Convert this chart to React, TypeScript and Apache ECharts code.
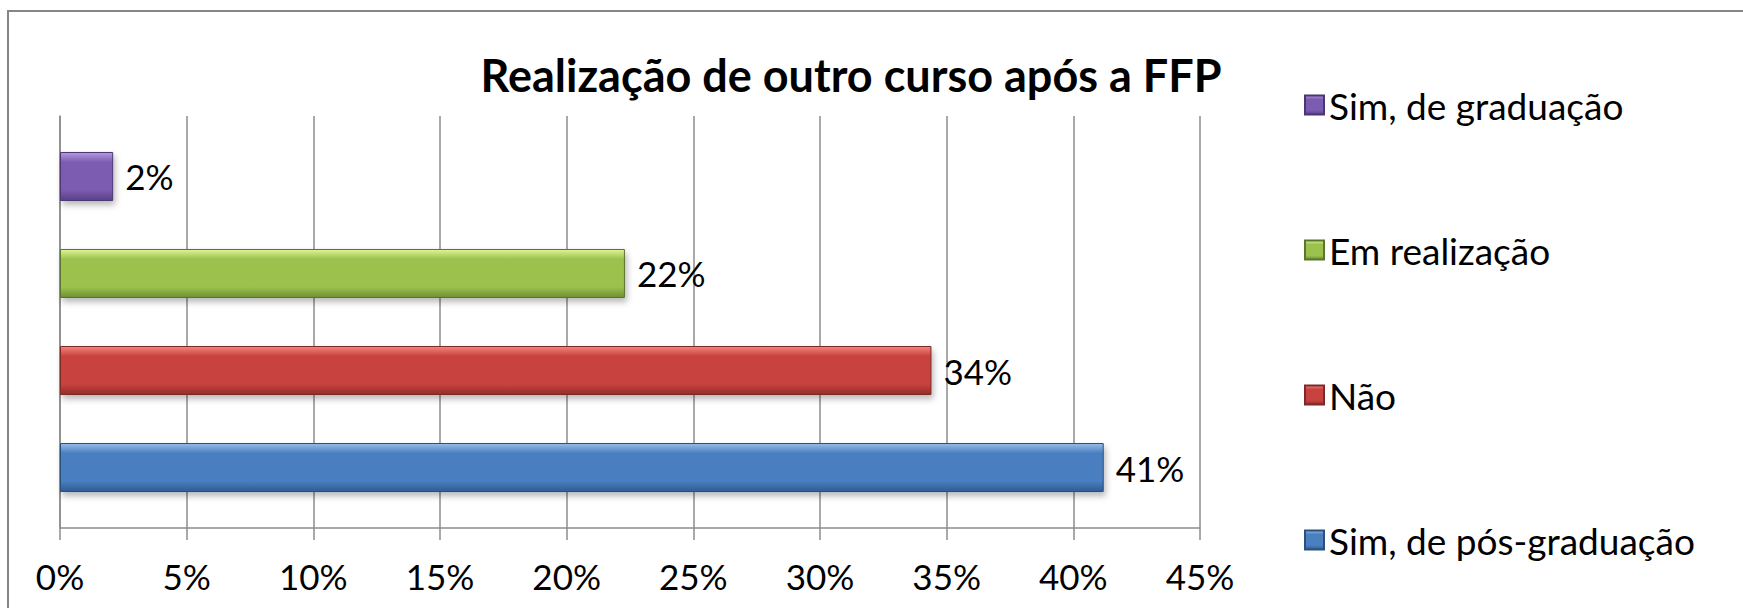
import React, { useEffect, useRef } from "react";
import * as echarts from "echarts";

const TITLE = "Realização de outro curso após a FFP";
// Series order as ECharts stacks them in the cluster (first = top bar)
const seriesNames = ["Sim, de graduação", "Em realização", "Não", "Sim, de pós-graduação"];
const seriesValues = [2.1, 22.3, 34.4, 41.2];
const seriesLabels = ["2%", "22%", "34%", "41%"];
const legendOrder = ["Sim, de graduação", "Em realização", "Não", "Sim, de pós-graduação"];
const xTicks = [0, 5, 10, 15, 20, 25, 30, 35, 40, 45];

const palette = [
  { top: "#b49ae0", mid: "#7c5cb0", bot: "#5a3f88", border: "#4b3573" },
  { top: "#dff596", mid: "#9cc24e", bot: "#6f8f33", border: "#5b7430" },
  { top: "#f6847f", mid: "#c8433f", bot: "#932d2a", border: "#7c2a28" },
  { top: "#98bdec", mid: "#4a7fc0", bot: "#2e5c93", border: "#2c4f7c" },
];

const FONT = "Lato";

export default function App() {
  const ref = useRef<HTMLDivElement>(null);
  useEffect(() => {
    if (!ref.current) return;
    const chart = echarts.init(ref.current, null, { renderer: "svg" });
    const series = seriesNames.map((name, i) => {
      const c = palette[i];
      return {
        name,
        type: "bar",
        data: [seriesValues[i]],
        barWidth: 49,
        barGap: "98%",
        itemStyle: {
          color: new echarts.graphic.LinearGradient(0, 0, 0, 1, [
            { offset: 0, color: c.top },
            { offset: 0.2, color: c.mid },
            { offset: 0.78, color: c.mid },
            { offset: 1, color: c.bot },
          ]),
          borderColor: c.border,
          borderWidth: 1,
          shadowBlur: 6,
          shadowOffsetX: 2,
          shadowOffsetY: 4,
          shadowColor: "rgba(0,0,0,0.28)",
        },
        label: {
          show: true,
          position: "right",
          distance: 12,
          formatter: () => seriesLabels[i],
          fontFamily: FONT,
          fontSize: 35,
          color: "#000",
        },
      };
    });
    chart.setOption({
      animation: false,
      backgroundColor: "#fff",
      title: {
        text: TITLE,
        left: 846,
        top: 47,
        textAlign: "center",
        textStyle: { fontFamily: FONT, fontWeight: "bold", fontSize: 45, color: "#000" },
      },
      legend: {
        orient: "vertical",
        left: 1299,
        top: 80,
        data: legendOrder,
        itemWidth: 19,
        itemHeight: 19,
        itemGap: 105,
        icon: "rect",
        selectedMode: false,
        textStyle: { fontFamily: FONT, fontSize: 37, color: "#000", lineHeight: 40 },
      },
      grid: { left: 60, right: 1743 - 1200, top: 116, bottom: 608 - 528, containLabel: false },
      xAxis: {
        type: "value",
        min: 0,
        max: 45,
        interval: 5,
        axisLine: { show: true, lineStyle: { color: "#8c8c8c", width: 1.5 } },
        axisTick: { show: true, length: 12, lineStyle: { color: "#8c8c8c", width: 1.5 } },
        splitLine: { show: true, lineStyle: { color: "#8c8c8c", width: 1.5 } },
        axisLabel: {
          margin: 30,
          fontFamily: FONT,
          fontSize: 35,
          color: "#000",
          formatter: (v: number) => (xTicks.includes(v) ? v + "%" : ""),
        },
      },
      yAxis: {
        type: "category",
        data: [""],
        axisLine: { show: true, lineStyle: { color: "#8c8c8c", width: 1.5 } },
        axisTick: { show: false },
        axisLabel: { show: false },
      },
      graphic: [
        {
          type: "rect",
          shape: { x: 8, y: 11, width: 1800, height: 700 },
          style: { fill: "none", stroke: "#868686", lineWidth: 2 },
          silent: true,
        },
      ],
      series,
    });
    return () => chart.dispose();
  }, []);
  return (
    <div
      ref={ref}
      style={{ position: "fixed", left: 0, top: 0, width: 1743, height: 608 }}
    />
  );
}
